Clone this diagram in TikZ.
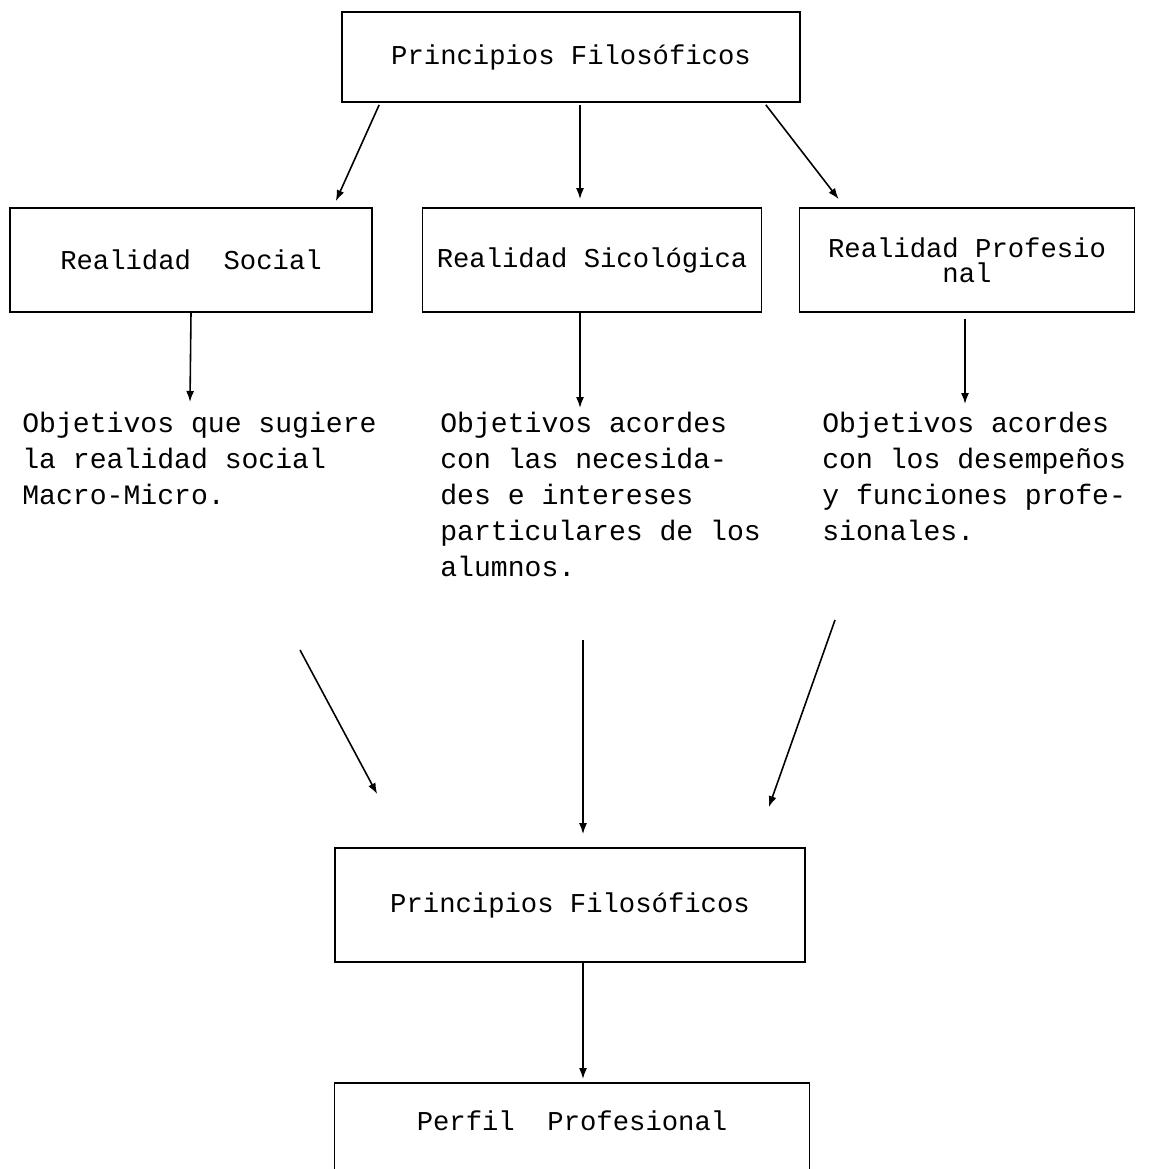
\documentclass[tikz,border=0pt]{standalone}
\usepackage{fontspec}
\setmonofont{Liberation Mono}
\usetikzlibrary{positioning, arrows.meta, calc}

\begin{document}
\begin{tikzpicture}[x=0.02cm, y=-0.02cm,
    caja/.style={draw, line width=1pt, inner sep=0pt, align=center, font=\ttfamily\fontsize{15.5}{17}\selectfont},
    texto/.style={anchor=north west, inner sep=0pt, align=left, font=\ttfamily\fontsize{16}{20.4}\selectfont},
    flecha/.style={-{Latex[length=2.2mm, width=1.6mm]}, line width=0.9pt}]

    \useasboundingbox (0,0) rectangle (1152,1169);

    % Cajas
    \node[caja, minimum width=9.16cm, minimum height=1.8cm] (pf1) at (571,57) {Principios Filosóficos};
    \node[caja, minimum width=7.24cm, minimum height=2.08cm] (soc) at (191,260) {Realidad\ \ Social};
    \node[caja, minimum width=6.78cm, minimum height=2.08cm] (psi) at (592,260) {Realidad Sicológica};
    \node[caja, minimum width=6.7cm, minimum height=2.08cm, font=\ttfamily\fontsize{15.5}{14}\selectfont] (pro) at (967,260) {Realidad Profesio\\nal};
    \node[caja, minimum width=9.4cm, minimum height=2.28cm] (pf2) at (570,905) {Principios Filosóficos};
    \node[caja, minimum width=9.5cm, anchor=north, text height=0.96cm, text depth=1.8cm] (per) at (572,1082) {Perfil\ \ Profesional};

    % Objetivos
    \node[texto] (ob1) at (22,412) {Objetivos que sugiere\\la realidad social\\Macro-Micro.};
    \node[texto] (ob2) at (440,412) {Objetivos acordes\\con las necesida-\\des e intereses\\particulares de los\\alumnos.};
    \node[texto] (ob3) at (822,412) {Objetivos acordes\\con los desempeños\\y funciones profe-\\sionales.};

    % Flechas
    \draw[flecha] ($(pf1.south west)+(38,2)$) -- ($(soc.north east)+(-37,-6)$);
    \draw[flecha] ($(pf1.south)+(9,2)$) -- ($(psi.north)+(-12,-8)$);
    \draw[flecha] ($(pf1.south east)+(-35,2)$) -- ($(pro.north west)+(40,-8)$);

    \draw[flecha] (soc.south) -- ($(ob1.north west)+(168,-10)$);
    \draw[flecha] ($(psi.south)+(-12,0)$) -- ($(ob2.north west)+(140,-4)$);
    \draw[flecha] ($(pro.south)+(-2,6)$) -- ($(ob3.north west)+(143,-8)$);

    \draw[flecha] ($(ob1.north west)+(278,238)$) -- ($(pf2.north west)+(43,-53)$);
    \draw[flecha] ($(ob2.north west)+(143,228)$) -- ($(pf2.north)+(13,-13)$);
    \draw[flecha] ($(ob3.north west)+(13,208)$) -- ($(pf2.north east)+(-37,-40)$);

    \draw[flecha] ($(pf2.south)+(13,0)$) -- ($(per.north)+(11,-3)$);
\end{tikzpicture}
\end{document}
